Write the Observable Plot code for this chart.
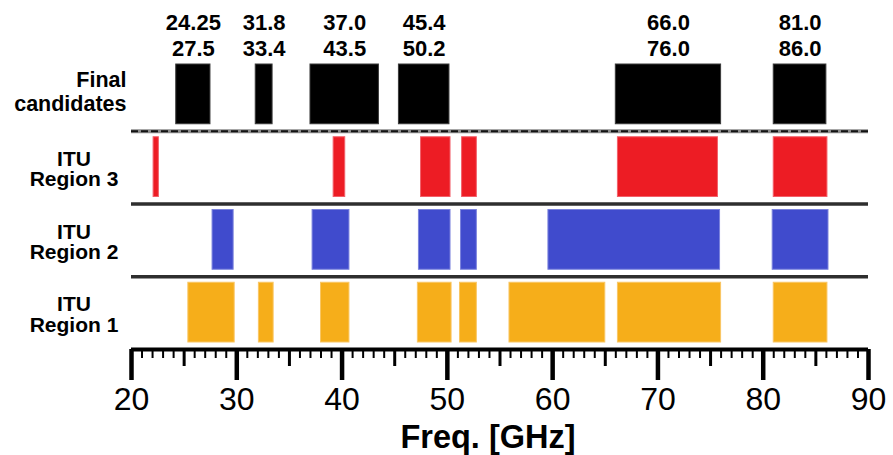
<!DOCTYPE html>
<html><head><meta charset="utf-8">
<script src="https://cdn.jsdelivr.net/npm/d3@7"></script>
<script src="https://cdn.jsdelivr.net/npm/@observablehq/plot@0.6"></script>
<style>body{margin:0;background:#fff}</style>
</head><body><div id="chart"></div>
<script>
// Rows, bottom to top
const rowLabels = ["ITU\nRegion 1", "ITU\nRegion 2", "ITU\nRegion 3", "Final\ncandidates"];
const rowColors = ["#F6AE1A", "#404BCD", "#ED1C24", "#000000"];
const rowStrokes = ["#F9C664", "#7A82DD", "#F2606A", "#3a3a3a"];

// Frequency bands [GHz]
const finalStart = [24.25, 31.8, 37.0, 45.4, 66.0, 81.0];
const finalEnd   = [27.5, 33.4, 43.5, 50.2, 76.0, 86.0];
const r3Start = [22.1, 39.2, 47.5, 51.4, 66.2, 81.0];
const r3End   = [22.6, 40.3, 50.3, 52.8, 75.7, 86.1];
const r2Start = [27.7, 37.2, 47.3, 51.3, 59.6, 80.9];
const r2End   = [29.7, 40.7, 50.3, 52.8, 75.9, 86.2];
const r1Start = [25.4, 32.1, 38.0, 47.2, 51.2, 55.9, 66.2, 81.0];
const r1End   = [29.8, 33.5, 40.7, 50.4, 52.8, 65.0, 76.0, 86.1];

const majorTicks = [20, 30, 40, 50, 60, 70, 80, 90];
const xLabel = "Freq. [GHz]";

const bands = (starts, ends, row) => starts.map((s, i) => ({row, x1: s, x2: ends[i]}));
const rowData = [bands(r1Start, r1End, 0), bands(r2Start, r2End, 1), bands(r3Start, r3End, 2), bands(finalStart, finalEnd, 3)];
const fmt = v => Number.isInteger(v * 10) ? v.toFixed(1) : String(v);

const mediumTicks = d3.range(25, 90, 10);
const minorTicks = d3.range(20, 91, 1).filter(v => v % 5 !== 0);

const marks = [];
rowData.forEach((data, r) => {
  marks.push(Plot.rect(data, {x1: "x1", x2: "x2", y1: d => d.row, y2: d => d.row + 1,
    insetTop: 6, insetBottom: 7, fill: rowColors[r], stroke: rowStrokes[r], strokeWidth: 1}));
});
// separators
marks.push(Plot.ruleY([1, 2], {stroke: "#2e2e2e", strokeWidth: 3.5}));
marks.push(Plot.ruleY([3], {stroke: "#8a8a8a", strokeWidth: 4}));
marks.push(Plot.ruleY([3], {stroke: "#111", strokeWidth: 2.2, strokeDasharray: "7,3"}));
// axis
marks.push(Plot.axisX(minorTicks, {tickSize: 9, strokeWidth: 2, tickFormat: () => "", label: null}));
marks.push(Plot.axisX(mediumTicks, {tickSize: 17, strokeWidth: 3, tickFormat: () => "", label: null}));
marks.push(Plot.axisX(majorTicks, {tickSize: 31, strokeWidth: 4.5, tickPadding: 7, fontSize: 32, label: null, tickFormat: d => String(d)}));
marks.push(Plot.ruleY([0], {stroke: "#000", strokeWidth: 4}));
// top labels
marks.push(Plot.text(rowData[3], {x: d => (d.x1 + d.x2) / 2, y: () => 4, text: d => fmt(d.x1) + "\n" + fmt(d.x2),
  lineAnchor: "bottom", dy: -3, fontSize: 22, fontWeight: "bold", lineHeight: 1.17, fill: "#000"}));
// row labels
marks.push(Plot.text([3], {y: d => d + 0.5, text: d => rowLabels[d], frameAnchor: "left", textAnchor: "end",
  dx: -5, dy: -3.3, fontSize: 21.5, fontWeight: "bold", lineHeight: 1.13, fill: "#000"}));
marks.push(Plot.text([0, 1, 2], {y: d => d + 0.5, text: d => rowLabels[d], frameAnchor: "left", textAnchor: "middle",
  dx: -57.5, dy: 2, fontSize: 21, fontWeight: "bold", lineHeight: 0.97, fill: "#000"}));
// x label
marks.push(Plot.text([xLabel], {text: d => d, frameAnchor: "bottom", lineAnchor: "top", dx: -12, dy: 75,
  fontSize: 32.5, fontWeight: "bold", fill: "#000"}));

const chart = Plot.plot({
  width: 893, height: 455,
  marginLeft: 131, marginRight: 25, marginTop: 58, marginBottom: 106,
  x: {domain: [20, 90], label: null},
  y: {domain: [0, 4], axis: null},
  style: {fontFamily: "'Liberation Sans', Arial, sans-serif", color: "#000", background: "#fff"},
  marks
});
document.getElementById("chart").appendChild(chart);
</script>
</body></html>
